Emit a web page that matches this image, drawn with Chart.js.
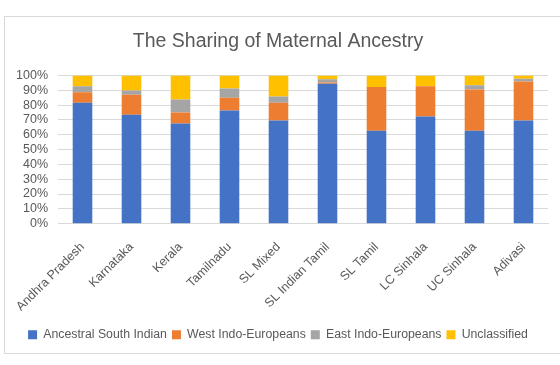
<!DOCTYPE html>
<html>
<head>
<meta charset="utf-8">
<script src="https://cdn.jsdelivr.net/npm/chart.js@4"></script>
<style>
  html,body{margin:0;padding:0;background:#fff;}
  #frame{position:absolute;left:4px;top:16px;width:600px;height:338px;border:1px solid #d9d9d9;box-sizing:border-box;}
  #wrap{position:absolute;left:0;top:0;width:560px;height:365px;}
</style>
</head>
<body>
<div id="frame"></div>
<div id="wrap"><canvas id="c" width="560" height="365"></canvas></div>
<script>
  /* ====== DATA ====== */
  const groups = ['Andhra Pradesh','Karnataka','Kerala','Tamilnadu','SL Mixed','SL Indian Tamil','SL Tamil','LC Sinhala','UC Sinhala','Adivasi'];
  const ancestralSouthIndian = [81.5, 73.4, 67.6, 76.4, 69.6, 94.4, 62.6, 72.3, 62.6, 69.6];
  const westIndoEuropeans    = [ 7.2, 13.6,  7.4,  8.5, 12.0,  0.8, 29.5, 20.3, 27.9, 26.3];
  const eastIndoEuropeans    = [ 3.9,  2.9,  8.8,  6.3,  4.2,  2.2,  0.0,  0.0,  2.9,  1.9];
  const unclassified         = [ 7.4, 10.1, 16.2,  8.8, 14.2,  2.6,  7.9,  7.4,  6.6,  2.2];
  const yTicks = [0,10,20,30,40,50,60,70,80,90,100];

  /* ====== STYLE ====== */
  const FONT = "'Liberation Sans', Arial, sans-serif";
  const TXT  = '#595959';
  const GRID = '#d9d9d9';

  const ds = (label, data, color)=>({label, data, backgroundColor:color, borderWidth:0,
    barPercentage:0.4, categoryPercentage:1});

  new Chart(document.getElementById('c').getContext('2d'),{
    type:'bar',
    data:{
      labels:groups,
      datasets:[
        ds('Ancestral South Indian', ancestralSouthIndian, '#4472C4'),
        ds('West Indo-Europeans',    westIndoEuropeans,    '#ED7D31'),
        ds('East Indo-Europeans',    eastIndoEuropeans,    '#A5A5A5'),
        ds('Unclassified',           unclassified,         '#FFC000')
      ]
    },
    options:{
      responsive:false, animation:false,
      layout:{padding:{left:8,right:12,top:0,bottom:14}},
      plugins:{
        title:{display:true, text:'The Sharing of Maternal Ancestry', color:TXT,
          font:{family:FONT,size:19.5,weight:'normal'}, padding:{top:30,bottom:22}},
        legend:{position:'bottom',
          labels:{color:TXT, font:{family:FONT,size:12.3}, boxWidth:9, boxHeight:9, padding:5}},
        tooltip:{enabled:false}
      },
      scales:{
        x:{stacked:true,
          grid:{display:false},
          border:{color:GRID},
          ticks:{color:TXT, font:{family:FONT,size:12.5}, minRotation:45, maxRotation:45, padding:8},
          afterFit:s=>{ s.height = 100; }
        },
        y:{stacked:true, min:0, max:100,
          afterBuildTicks:s=>{ s.ticks = yTicks.map(v=>({value:v})); },
          grid:{color:GRID, drawTicks:false},
          border:{display:false},
          ticks:{color:TXT, font:{family:FONT,size:12.5}, padding:10, autoSkip:false, callback:v=>v+'%'},
          afterFit:s=>{ s.width = 50; }
        }
      }
    }
  });
</script>
</body>
</html>
